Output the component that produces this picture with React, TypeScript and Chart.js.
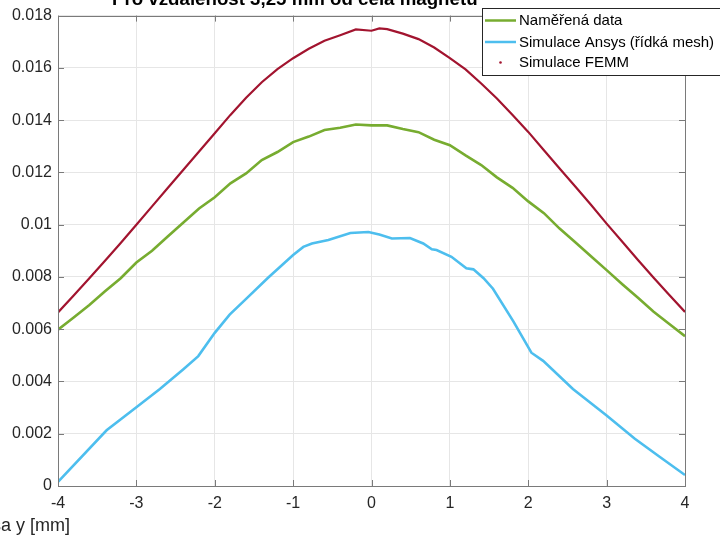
import React, { useEffect, useRef } from "react";
import { Chart, registerables } from "chart.js";

Chart.register(...registerables);

const titleText = "Pro vzdálenost 3,25 mm od čela magnetu";
const xAxisLabel = "Osa y [mm]";
const legendLabels = ["Naměřená data", "Simulace Ansys (řídká mesh)", "Simulace FEMM"];
const seriesColors = ["#77AC30", "#4DBEEE", "#A2142F"];

const xTickValues = [-4, -3, -2, -1, 0, 1, 2, 3, 4];
const xTickLabels = ["-4", "-3", "-2", "-1", "0", "1", "2", "3", "4"];
const yTickValues = [0, 0.002, 0.004, 0.006, 0.008, 0.01, 0.012, 0.014, 0.016, 0.018];
const yTickLabels = ["0", "0.002", "0.004", "0.006", "0.008", "0.01", "0.012", "0.014", "0.016", "0.018"];

const measuredX = [
  -4.0, -3.8, -3.6, -3.4, -3.2, -3.0, -2.8, -2.6, -2.4, -2.2, -2.0, -1.8, -1.6, -1.4, -1.2, -1.0, -0.8, -0.6, -0.4, -0.2,
  0.0, 0.2, 0.4, 0.6, 0.8, 1.0, 1.2, 1.4, 1.6, 1.8, 2.0, 2.2, 2.4, 2.6, 2.8, 3.0, 3.2, 3.4, 3.6, 3.8, 4.0,
];
const measuredY = [
  0.00598, 0.00645, 0.00693, 0.00745, 0.00795, 0.00855, 0.009, 0.00955, 0.01008, 0.01062, 0.01105, 0.01158, 0.01196,
  0.01247, 0.01278, 0.01316, 0.01337, 0.01362, 0.01371, 0.01383, 0.0138, 0.0138, 0.01366, 0.01354, 0.01325, 0.01304,
  0.01265, 0.01228, 0.01181, 0.01141, 0.01089, 0.01044, 0.00985, 0.00933, 0.00879, 0.00826, 0.00772, 0.0072, 0.00667,
  0.0062, 0.00573,
];

const ansysX = [
  -4.0, -3.38, -3.0, -2.7, -2.4, -2.21, -2.0, -1.81, -1.59, -1.32, -1.0, -0.87, -0.76, -0.55, -0.27, -0.04, 0.1, 0.26,
  0.49, 0.66, 0.77, 0.83, 1.02, 1.21, 1.3, 1.43, 1.55, 1.81, 2.04, 2.19, 2.57, 3.0, 3.36, 3.68, 4.0,
];
const ansysY = [
  0.00016, 0.00213, 0.00301, 0.00371, 0.00447, 0.00497, 0.00586, 0.00656, 0.00719, 0.00797, 0.00884, 0.00915, 0.00928,
  0.00941, 0.00968, 0.00972, 0.00962, 0.00947, 0.00949, 0.00928, 0.00906, 0.00903, 0.00877, 0.00833, 0.00829, 0.00795,
  0.00755, 0.0063, 0.0051, 0.00479, 0.00371, 0.0027, 0.00181, 0.00111, 0.00042,
];

const femmX = [
  -4.0, -3.8, -3.6, -3.4, -3.2, -3.0, -2.8, -2.6, -2.4, -2.2, -2.0, -1.8, -1.6, -1.4, -1.2, -1.0, -0.8, -0.6, -0.4, -0.2,
  0.0, 0.1, 0.2, 0.4, 0.6, 0.8, 1.0, 1.2, 1.4, 1.6, 1.8, 2.0, 2.2, 2.4, 2.6, 2.8, 3.0, 3.2, 3.4, 3.6, 3.8, 4.0,
];
const femmY = [
  0.00664, 0.00729, 0.00795, 0.00862, 0.0093, 0.01, 0.0107, 0.0114, 0.0121, 0.0128, 0.0135, 0.0142, 0.01486, 0.01545,
  0.01595, 0.01637, 0.01673, 0.01704, 0.01725, 0.01747, 0.01742, 0.01751, 0.01748, 0.01731, 0.0171, 0.01678, 0.01637,
  0.01594, 0.0154, 0.01483, 0.0142, 0.01355, 0.01285, 0.01215, 0.01146, 0.01076, 0.01004, 0.00935, 0.00865, 0.00797,
  0.00731, 0.00666,
];

const FONT = "'Liberation Sans', Arial, Helvetica, sans-serif";

const toPoints = (xs: number[], ys: number[]) => xs.map((x, i) => ({ x, y: ys[i] }));

const decorPlugin = {
  id: "matlabDecor",
  afterDraw(chart: any) {
    const ctx = chart.ctx as CanvasRenderingContext2D;
    const { left, right, top, bottom } = chart.chartArea;
    const xs = chart.scales.x;
    const ys = chart.scales.y;
    ctx.save();
    // box
    ctx.strokeStyle = "#7a7a7a";
    ctx.lineWidth = 1;
    ctx.strokeRect(Math.round(left) + 0.5, Math.round(top) + 0.5, Math.round(right - left), Math.round(bottom - top));
    // inward ticks
    const tl = 6;
    ctx.beginPath();
    xTickValues.forEach((v) => {
      const px = Math.round(xs.getPixelForValue(v)) + 0.5;
      ctx.moveTo(px, bottom);
      ctx.lineTo(px, bottom - tl);
      ctx.moveTo(px, top);
      ctx.lineTo(px, top + tl);
    });
    yTickValues.forEach((v) => {
      const py = Math.round(ys.getPixelForValue(v)) + 0.5;
      ctx.moveTo(left, py);
      ctx.lineTo(left + tl, py);
      ctx.moveTo(right, py);
      ctx.lineTo(right - tl, py);
    });
    ctx.stroke();

    // title (fitted between x=112 and x=478)
    ctx.fillStyle = "#000";
    ctx.font = `bold 16px ${FONT}`;
    const w16 = ctx.measureText(titleText).width;
    const tSize = (16 * 366) / w16;
    ctx.font = `bold ${tSize.toFixed(2)}px ${FONT}`;
    ctx.textAlign = "left";
    ctx.textBaseline = "alphabetic";
    ctx.fillText(titleText, 112, 5);

    // x label
    ctx.fillStyle = "#262626";
    ctx.font = `18px ${FONT}`;
    const osW = ctx.measureText("Os").width;
    ctx.textAlign = "left";
    ctx.textBaseline = "middle";
    ctx.fillText(xAxisLabel, 1 - osW, 526);

    // legend
    const bx = 482.5;
    const by = 8.5;
    const bw = 260;
    const bh = 67;
    ctx.fillStyle = "#fff";
    ctx.fillRect(bx, by, bw, bh);
    ctx.strokeStyle = "#262626";
    ctx.lineWidth = 1;
    ctx.strokeRect(bx, by, bw, bh);
    const rows = [20.5, 42, 62.5];
    ctx.font = `15px ${FONT}`;
    ctx.textBaseline = "middle";
    rows.forEach((ry, i) => {
      if (i < 2) {
        ctx.strokeStyle = seriesColors[i];
        ctx.lineWidth = 2.5;
        ctx.beginPath();
        ctx.moveTo(485, ry);
        ctx.lineTo(516, ry);
        ctx.stroke();
      } else {
        ctx.fillStyle = seriesColors[i];
        ctx.beginPath();
        ctx.arc(500.5, ry, 1.3, 0, Math.PI * 2);
        ctx.fill();
      }
      ctx.fillStyle = "#000";
      ctx.fillText(legendLabels[i], 519, ry + 0.5);
    });
    ctx.restore();
  },
};

export default function App() {
  const ref = useRef<HTMLCanvasElement | null>(null);
  useEffect(() => {
    document.body.style.margin = "0";
    const canvas = ref.current!;
    const chart = new Chart(canvas, {
      type: "line",
      data: {
        datasets: [
          {
            label: legendLabels[2],
            data: toPoints(femmX, femmY),
            borderColor: seriesColors[2],
            borderWidth: 2.2,
            pointRadius: 0,
            tension: 0,
          },
          {
            label: legendLabels[1],
            data: toPoints(ansysX, ansysY),
            borderColor: seriesColors[1],
            borderWidth: 2.6,
            pointRadius: 0,
            tension: 0,
          },
          {
            label: legendLabels[0],
            data: toPoints(measuredX, measuredY),
            borderColor: seriesColors[0],
            borderWidth: 2.6,
            pointRadius: 0,
            tension: 0,
          },
        ],
      },
      options: {
        animation: false,
        responsive: false,
        devicePixelRatio: 1,
        parsing: false as any,
        layout: { padding: { left: 0, right: 35, top: 12, bottom: 0 } },
        plugins: { legend: { display: false }, title: { display: false }, tooltip: { enabled: false } },
        scales: {
          x: {
            type: "linear",
            min: -4,
            max: 4,
            afterBuildTicks: (s: any) => {
              s.ticks = xTickValues.map((v) => ({ value: v }));
            },
            afterFit: (s: any) => {
              s.height = 51;
            },
            ticks: {
              color: "#262626",
              font: { family: FONT, size: 16 },
              padding: 8,
              maxRotation: 0,
              autoSkip: false,
              callback: (_v: any, i: number) => xTickLabels[i],
            },
            grid: { color: "#e6e6e6", drawTicks: false, lineWidth: 1 },
            border: { display: false },
          },
          y: {
            type: "linear",
            min: 0,
            max: 0.018,
            afterBuildTicks: (s: any) => {
              s.ticks = yTickValues.map((v) => ({ value: v }));
            },
            afterFit: (s: any) => {
              s.width = 58;
            },
            ticks: {
              color: "#262626",
              font: { family: FONT, size: 16 },
              padding: 6,
              autoSkip: false,
              callback: (_v: any, i: number) => yTickLabels[i],
            },
            grid: { color: "#e6e6e6", drawTicks: false, lineWidth: 1 },
            border: { display: false },
          },
        },
      },
      plugins: [decorPlugin],
    });
    return () => chart.destroy();
  }, []);
  return (
    <div style={{ position: "fixed", left: 0, top: 0, width: 720, height: 537, background: "#fff" }}>
      <canvas ref={ref} width={720} height={537} />
    </div>
  );
}
